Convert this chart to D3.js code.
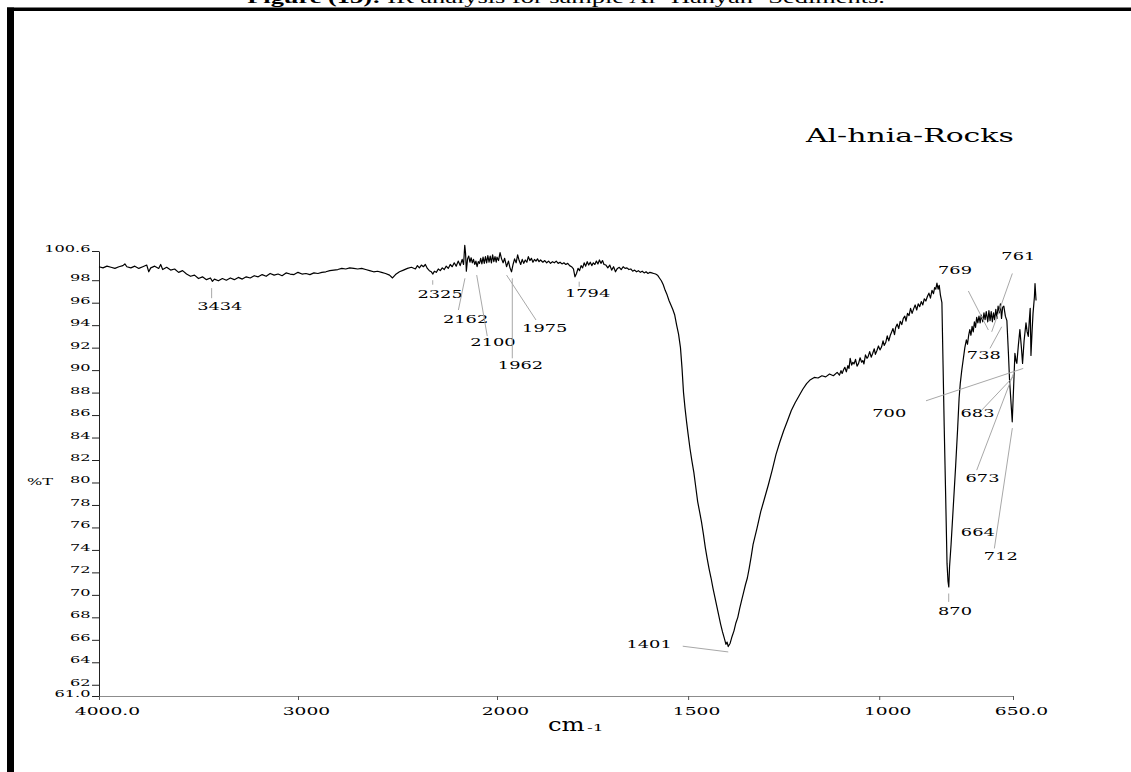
<!DOCTYPE html>
<html>
<head>
<meta charset="utf-8">
<script src="https://cdn.jsdelivr.net/npm/d3@7"></script>
<style>
  body { margin: 0; background: #fff; }
  svg { display: block; }
</style>
</head>
<body>
<svg width="1131" height="772"></svg>
<script>
// spectrum: [wavenumber cm-1, %T]
const highRange = [
  [4000, 99.20], [3980, 99.10], [3960, 99.25], [3940, 99.15], [3920, 99.05], [3900, 99.20],
  [3880, 99.30], [3870, 99.45], [3860, 99.20], [3840, 99.10], [3820, 99.25], [3800, 99.05],
  [3780, 99.20], [3760, 99.35], [3750, 98.75], [3740, 99.10], [3720, 99.25], [3700, 99.05],
  [3690, 99.40], [3680, 98.95], [3660, 99.15], [3640, 98.90], [3620, 99.00], [3600, 98.70],
  [3580, 98.85], [3560, 98.55], [3540, 98.35], [3520, 98.45], [3500, 98.15], [3480, 98.30],
  [3460, 98.05], [3440, 98.20], [3430, 97.90], [3420, 98.10], [3400, 97.95], [3380, 98.15],
  [3360, 98.00], [3340, 98.20], [3320, 98.05], [3300, 98.25], [3280, 98.10], [3260, 98.30],
  [3240, 98.20], [3220, 98.40], [3200, 98.30], [3180, 98.50], [3160, 98.35], [3140, 98.60],
  [3120, 98.45], [3100, 98.55], [3080, 98.40], [3060, 98.65], [3040, 98.55], [3020, 98.50],
  [3000, 98.70], [2980, 98.55], [2960, 98.60], [2940, 98.50], [2920, 98.65], [2900, 98.60],
  [2880, 98.70], [2860, 98.75], [2840, 98.85], [2820, 98.90], [2800, 98.95], [2780, 99.05],
  [2760, 99.00], [2740, 99.10], [2720, 99.05], [2700, 99.00], [2680, 99.05], [2660, 98.95],
  [2640, 98.85], [2620, 98.75], [2600, 98.80], [2580, 98.70], [2560, 98.60], [2540, 98.45],
  [2525, 98.20], [2510, 98.50], [2490, 98.75], [2470, 98.90], [2450, 99.05], [2430, 99.15],
  [2410, 99.00], [2400, 99.30], [2390, 99.10], [2380, 99.35], [2370, 99.20], [2360, 99.40],
  [2350, 99.05], [2340, 98.85], [2330, 98.75], [2322, 98.55], [2315, 98.80], [2305, 98.70],
  [2295, 99.00], [2285, 98.85], [2275, 99.10], [2265, 98.95], [2255, 99.25], [2245, 99.05],
  [2235, 99.40], [2225, 99.20], [2215, 99.55], [2205, 99.25], [2195, 99.70], [2185, 99.30],
  [2175, 99.85], [2168, 99.40], [2162, 101.10], [2158, 100.40], [2154, 98.80], [2148, 99.90],
  [2142, 100.15], [2136, 99.60], [2130, 100.00], [2124, 99.55], [2118, 99.85], [2112, 99.40],
  [2106, 99.70], [2100, 99.20], [2094, 99.65], [2088, 99.50], [2082, 99.95], [2076, 99.45],
  [2070, 100.05], [2064, 99.50], [2058, 100.10], [2052, 99.55], [2046, 100.20], [2040, 99.60],
  [2034, 100.15], [2028, 99.55], [2022, 100.25], [2016, 99.65], [2010, 100.10], [2004, 99.60],
  [2000, 100.05]
];

const midRange = [
  [1996, 99.75], [1992, 100.45], [1988, 99.90], [1984, 99.55], [1980, 99.95], [1975, 99.20],
  [1970, 99.70], [1966, 99.10], [1962, 98.75], [1958, 99.40], [1954, 99.90], [1950, 99.55],
  [1946, 100.25], [1942, 99.75], [1938, 99.40], [1934, 99.85], [1930, 99.50], [1926, 99.80],
  [1922, 99.60], [1918, 100.10], [1914, 99.75], [1910, 99.95], [1906, 99.60], [1902, 99.85],
  [1898, 99.70], [1894, 99.90], [1890, 99.65], [1886, 99.80], [1880, 99.60], [1875, 99.75],
  [1870, 99.55], [1865, 99.70], [1860, 99.50], [1855, 99.65], [1850, 99.55], [1845, 99.70],
  [1840, 99.50], [1835, 99.60], [1830, 99.45], [1825, 99.55], [1820, 99.40], [1815, 99.50],
  [1810, 99.30], [1805, 99.20], [1800, 99.00], [1796, 98.30], [1792, 98.60], [1788, 99.05],
  [1784, 98.85], [1780, 99.30], [1776, 99.10], [1772, 99.55], [1768, 99.25], [1764, 99.65],
  [1760, 99.35], [1756, 99.60], [1752, 99.30], [1748, 99.55], [1744, 99.40], [1740, 99.70],
  [1736, 99.45], [1732, 99.80], [1728, 99.50], [1724, 99.75], [1720, 99.40], [1715, 99.35],
  [1710, 99.10], [1705, 99.35], [1700, 98.90], [1695, 99.20], [1690, 98.75], [1685, 99.05],
  [1680, 99.15], [1675, 98.95], [1670, 99.20], [1665, 99.05], [1660, 99.10], [1655, 98.95],
  [1650, 99.00], [1645, 98.80], [1640, 98.90], [1635, 98.75], [1630, 98.85], [1625, 98.70],
  [1620, 98.80], [1615, 98.65], [1610, 98.75], [1605, 98.60], [1600, 98.70], [1595, 98.65],
  [1590, 98.60], [1585, 98.55], [1580, 98.45], [1575, 98.20], [1570, 97.95], [1565, 97.60],
  [1560, 97.10], [1555, 96.70], [1550, 96.20], [1545, 95.80], [1540, 95.40], [1535, 94.90],
  [1530, 94.00], [1525, 93.20], [1520, 92.00], [1516, 90.20], [1512, 88.00], [1508, 86.60],
  [1504, 85.40], [1500, 84.30], [1495, 83.00], [1490, 81.90], [1485, 80.90], [1480, 79.60],
  [1475, 78.30], [1470, 77.40], [1465, 76.50], [1460, 75.40], [1455, 74.20], [1450, 73.20],
  [1445, 72.30], [1440, 71.50], [1435, 70.60], [1430, 69.80], [1425, 69.00], [1420, 68.20],
  [1415, 67.40], [1410, 66.70], [1405, 66.10], [1401, 65.60], [1398, 65.80], [1395, 65.40],
  [1390, 65.70], [1385, 66.30], [1380, 66.80], [1375, 67.50], [1370, 68.00], [1365, 68.80],
  [1360, 69.50], [1355, 70.20], [1350, 70.90], [1345, 71.50], [1340, 72.40], [1335, 73.40],
  [1330, 74.50], [1320, 75.90], [1310, 77.40], [1300, 78.60], [1290, 79.80], [1280, 81.10],
  [1270, 82.50], [1260, 83.60], [1250, 84.60], [1240, 85.50], [1230, 86.40], [1220, 87.10],
  [1210, 87.70], [1200, 88.30], [1190, 88.80], [1180, 89.15], [1170, 89.35], [1160, 89.30],
  [1150, 89.50], [1140, 89.40], [1130, 89.65], [1120, 89.50], [1110, 89.80]
];

const lowRange = [
  [1104, 89.55], [1100, 89.95], [1097, 89.70], [1093, 90.05], [1090, 90.25], [1086, 89.85],
  [1082, 90.40], [1079, 90.15], [1076, 91.05], [1072, 90.45], [1069, 90.70], [1066, 90.55],
  [1062, 90.95], [1058, 90.35], [1054, 90.60], [1050, 91.10], [1046, 90.70], [1043, 90.85],
  [1040, 90.55], [1036, 91.35], [1032, 91.05], [1029, 91.20], [1025, 91.65], [1021, 91.15],
  [1017, 91.50], [1013, 91.90], [1010, 91.40], [1006, 91.75], [1002, 92.15], [998, 91.80],
  [994, 92.05], [990, 92.60], [987, 92.20], [983, 92.45], [979, 93.05], [975, 92.60],
  [971, 93.10], [968, 93.35], [964, 93.70], [960, 93.15], [957, 93.80], [953, 94.10],
  [949, 93.70], [945, 94.35], [941, 94.05], [937, 94.60], [933, 94.80], [930, 94.35],
  [926, 95.05], [922, 94.85], [918, 95.50], [914, 95.05], [910, 95.45], [906, 95.80],
  [902, 95.35], [898, 95.90], [894, 95.65], [890, 96.10], [886, 95.80], [882, 96.35],
  [878, 96.15], [874, 96.55], [870, 96.85], [866, 96.40], [862, 97.10], [858, 96.80],
  [855, 97.35], [852, 97.20], [849, 97.75], [846, 97.20], [843, 97.55], [840, 96.70],
  [836, 96.00], [833, 90.50], [830, 85.00], [826, 78.50], [822.6, 72.80], [820, 71.20],
  [818, 70.70], [816, 72.50], [812, 74.50], [806, 78.00], [800, 81.50], [795, 84.70],
  [791, 87.50], [788, 88.80], [784, 90.00], [780, 91.00], [776, 92.00], [772, 92.70],
  [769, 92.30], [766, 93.10], [763, 93.60], [760, 93.10], [757, 93.90], [754, 93.40],
  [751, 94.30], [748, 93.80], [745, 94.70], [742, 94.20], [739, 94.80], [736, 94.20],
  [733, 94.90], [729, 94.30], [726, 95.10], [723, 94.50], [720, 95.20], [716, 94.30],
  [713, 95.30], [710, 94.40], [707, 95.20], [704, 94.30], [701, 95.10], [698, 94.50],
  [695, 95.40], [692, 94.60], [689, 95.70], [686, 95.10], [683, 95.90], [680, 94.60],
  [677, 95.60], [674, 95.70], [670, 94.80], [666, 94.40], [662, 91.50], [659, 89.10],
  [655, 87.00], [652, 85.40], [647, 89.70], [645, 91.50], [642, 90.80], [640, 90.60],
  [636, 92.20], [632, 93.60], [628, 92.00], [625, 90.60], [621, 92.60], [616, 94.20],
  [613, 93.40], [610, 93.00], [607, 94.60], [605, 95.50], [603, 91.30], [600, 93.50],
  [597.6, 95.05], [594, 96.50], [592.4, 97.70], [589.7, 96.20]
];

const xTicks = [4000, 3000, 2000, 1500, 1000, 650];
const yTicks = [61.0, 62, 64, 66, 68, 70, 72, 74, 76, 78, 80, 82, 84, 86, 88, 90, 92, 94, 96, 98, 100.6];

// peak labels: text position and leader line ends, in cm-1 / %T
const peakLabels = [
  { label: "3434", tx: 3393, ty: 95.35, x1: 3434, y1: 97.3, x2: 3434, y2: 96.4 },
  { label: "2325", tx: 2286, ty: 96.4, x1: 2323, y1: 98.0, x2: 2323, y2: 97.6 },
  { label: "2162", tx: 2158, ty: 94.2, x1: 2194, y1: 95.35, x2: 2161, y2: 98.17 },
  { label: "2100", tx: 2020, ty: 92.14, x1: 2049, y1: 93.03, x2: 2102, y2: 98.46 },
  { label: "1975", tx: 1875, ty: 93.41, x1: 1898, y1: 94.46, x2: 1975, y2: 98.46 },
  { label: "1962", tx: 1938.5, ty: 90.07, x1: 1960, y1: 91.05, x2: 1960, y2: 98.17 },
  { label: "1794", tx: 1763, ty: 96.48, x1: 1785, y1: 97.87, x2: 1785, y2: 97.42 },
  { label: "1401", tx: 1602, ty: 65.28, x1: 1514, y1: 65.43, x2: 1395, y2: 64.92 },
  { label: "870", tx: 801.7, ty: 68.25, x1: 818.2, y1: 70.12, x2: 818.2, y2: 69.37 },
  { label: "769", tx: 801.7, ty: 98.53, x1: 766.8, y1: 97.04, x2: 714.5, y2: 93.57 },
  { label: "761", tx: 636, ty: 99.8, x1: 651.7, y1: 98.6, x2: 705.7, y2: 93.41 },
  { label: "738", tx: 726.3, ty: 90.98, x1: 710.1, y1: 91.94, x2: 679.5, y2: 93.86 },
  { label: "700", tx: 973.8, ty: 85.85, x1: 877.6, y1: 87.27, x2: 623.2, y2: 90.15 },
  { label: "683", tx: 742.8, ty: 85.85, x1: 731.7, y1: 86.44, x2: 649.1, y2: 89.41 },
  { label: "673", tx: 729.7, ty: 80.0, x1: 744.9, y1: 81.1, x2: 647.3, y2: 89.83 },
  { label: "664", tx: 742.1, ty: 75.22 },
  { label: "712", tx: 681.8, ty: 73.08, x1: 698.8, y1: 74.13, x2: 651.7, y2: 84.84 }
];

const sampleName = "Al-hnia-Rocks";

const svg = d3.select("svg");
const serif = "'DejaVu Serif', serif";

// wavenumber axis is expanded below 2000 cm-1
const x = d3.scaleLinear().domain([4000, 2000, 650]).range([99, 497, 1013]);
const y = d3.scaleLinear().domain([61.0, 100.6]).range([696, 251]);

// horizontally stretched text, like the original scan
function stretchText(px, py, str, size, sx, anchor) {
  return svg.append("text")
    .attr("transform", `translate(${px},${py}) scale(${sx},1)`)
    .attr("text-anchor", anchor || "middle")
    .attr("font-family", serif)
    .attr("font-size", size)
    .attr("fill", "#000")
    .text(str);
}

// page frame
svg.append("rect").attr("x", 7).attr("y", 7.5).attr("width", 1124).attr("height", 3.5).attr("fill", "#000");
svg.append("rect").attr("x", 7).attr("y", 7.5).attr("width", 7).attr("height", 765).attr("fill", "#000");

// caption, cut by the top of the page as in the scan
const cap = svg.append("text")
  .attr("transform", "translate(566,2.5) scale(1.65,1)")
  .attr("text-anchor", "middle")
  .attr("font-family", "'Liberation Serif', serif")
  .attr("font-size", 16);
cap.append("tspan").attr("font-weight", "bold").text("Figure (13):");
cap.append("tspan").text(" IR analysis for sample Al- Hanyan- Sediments.");

// y axis
const yAxis = svg.append("g")
  .attr("transform", "translate(99,0)")
  .call(d3.axisLeft(y).tickValues(yTicks).tickSize(7).tickSizeOuter(0)
    .tickFormat(d => (d === 61 || d === 100.6) ? d.toFixed(1) : d3.format("d")(d)));
yAxis.select(".domain").attr("stroke", "#222");
yAxis.selectAll(".tick line").attr("stroke", "#222");
yAxis.selectAll("text")
  .attr("font-family", serif).attr("font-size", 9.5).attr("fill", "#000")
  .attr("x", -8.5 / 1.7).attr("dy", "0.05em")
  .attr("transform", "scale(1.7,1)");

// x axis
const xAxis = svg.append("g")
  .attr("transform", "translate(0,696)")
  .call(d3.axisBottom(x).tickValues(xTicks).tickSize(4).tickSizeOuter(0)
    .tickFormat(d => (d === 4000 || d === 650) ? d.toFixed(1) : String(d)));
xAxis.select(".domain").attr("stroke", "#8c8c8c");
xAxis.selectAll(".tick line").attr("stroke", "#555");
xAxis.selectAll("text")
  .attr("font-family", serif).attr("font-size", 10.5).attr("fill", "#000")
  .attr("x", 8 / 1.78).attr("y", 19).attr("dy", 0)
  .attr("transform", "scale(1.78,1)");

// axis titles
stretchText(27, 485, "%T", 9.5, 1.7, "start");
stretchText(548, 731, "cm", 18, 1.35, "start");
stretchText(587, 731, "-1", 9, 1.9, "start");
stretchText(806, 141.7, sampleName, 18, 1.66, "start");

// spectrum
const spectrum = highRange.concat(midRange, lowRange);
svg.append("path")
  .datum(spectrum)
  .attr("fill", "none")
  .attr("stroke", "#000")
  .attr("stroke-width", 1.2)
  .attr("stroke-linejoin", "round")
  .attr("d", d3.line().x(d => x(d[0])).y(d => y(d[1])));

// peak leaders and labels
peakLabels.forEach(p => {
  if (p.x1 !== undefined) {
    svg.append("line")
      .attr("x1", x(p.x1)).attr("y1", y(p.y1))
      .attr("x2", x(p.x2)).attr("y2", y(p.y2))
      .attr("stroke", "#a8a8a8")
      .attr("stroke-width", 1);
  }
  stretchText(x(p.tx), y(p.ty), p.label, 11, 1.62);
});
</script>
</body>
</html>
